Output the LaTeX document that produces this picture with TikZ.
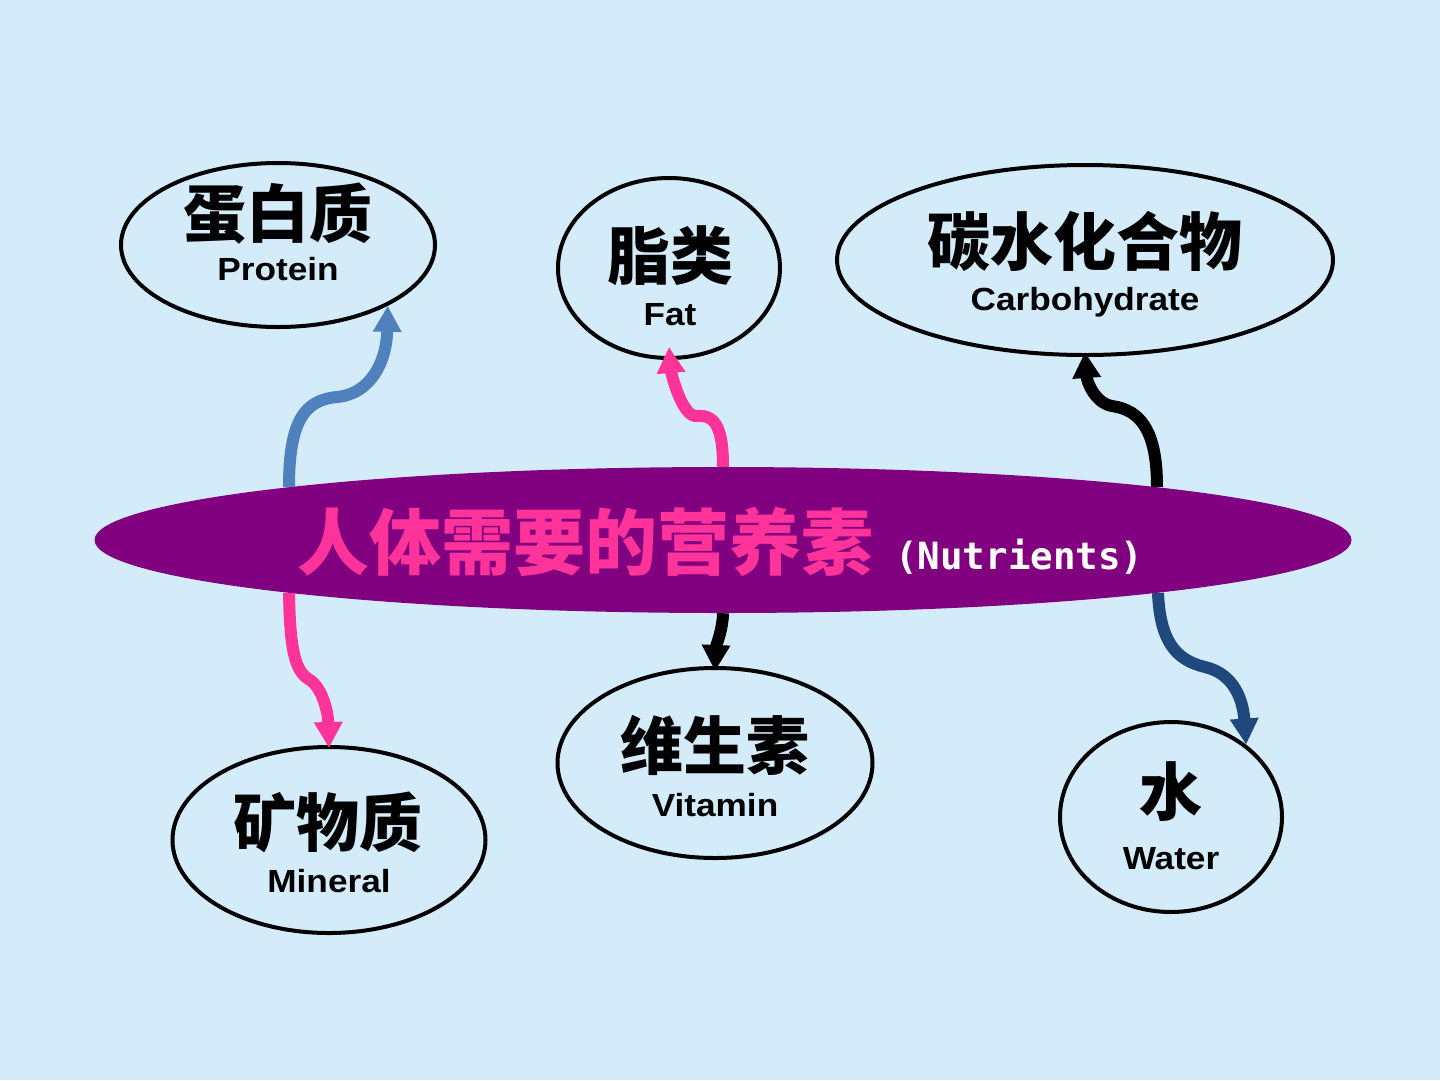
\documentclass[tikz,border=0pt]{standalone}
\usepackage{fontspec}
\usetikzlibrary{shapes.geometric}
\usetikzlibrary{arrows.meta}
\usepackage{xcolor}

\newfontfamily\zh{Noto Sans CJK SC}
\newfontfamily\en{Liberation Sans}[FakeStretch=1.1]
\newfontfamily\mono{DejaVu Sans Mono}

\definecolor{nutbg}{RGB}{212,236,250}
\definecolor{nutpurple}{RGB}{128,0,128}
\definecolor{nutpink}{RGB}{255,51,153}
\definecolor{nutblue}{RGB}{79,129,189}
\definecolor{nutnavy}{RGB}{31,73,125}

\tikzset{
  bubble/.style={ellipse, draw=black, line width=4pt, inner sep=0pt},
  core/.style={ellipse, fill=nutpurple, inner sep=0pt, minimum width=1257pt, minimum height=146pt},
  zhlabel/.style={inner sep=0pt, font=\zh\bfseries\fontsize{63}{63}\selectfont},
  enlabel/.style={inner sep=0pt, anchor=base, font=\en\bfseries\fontsize{32}{32}\selectfont},
  link/.style={line width=12pt, -{Triangle[width=27pt,length=26pt]}},
}

\begin{document}
\begin{tikzpicture}[x=1pt,y=1pt,yscale=-1,xscale=1]
\useasboundingbox (0,0) rectangle (1440,1080);
\fill[nutbg] (0,0) rectangle (1440,1080);

% Ellipses
\node[core] (core) at (723,540) {};
\node[bubble, minimum width=314pt, minimum height=164pt] (protein) at (278,245) {};
\node[bubble, minimum width=222pt, minimum height=180pt] (fat) at (669,268) {};
\node[bubble, minimum width=496pt, minimum height=190pt] (carbo) at (1085,260) {};
\node[bubble, minimum width=313pt, minimum height=186pt] (mineral) at (329,840) {};
\node[bubble, minimum width=315pt, minimum height=190pt] (vitamin) at (715,763) {};
\node[bubble, minimum width=222pt, minimum height=190pt] (water) at (1171,817) {};

% Text Node
\node[anchor=base west, inner sep=0pt] (title) at (297,569)
  {{\color{nutpink}\zh\bfseries\fontsize{72}{72}\selectfont 人体需要的营养素}\hspace{22pt}{\color{white}\mono\bfseries\fontsize{37.5}{40}\selectfont (Nutrients)}};

% Text Node
\node[zhlabel] (protein-zh) at (278,214) {蛋白质};
\node[enlabel] (protein-en) at (278,280) {Protein};
\node[zhlabel] (fat-zh) at (670,256) {脂类};
\node[enlabel] (fat-en) at (670,325) {Fat};
\node[zhlabel] (carbo-zh) at (1085,241) {碳水化合物};
\node[enlabel] (carbo-en) at (1085,310) {Carbohydrate};
\node[zhlabel] (mineral-zh) at (328,822) {矿物质};
\node[enlabel] (mineral-en) at (329,892) {Mineral};
\node[zhlabel] (vitamin-zh) at (715,745) {维生素};
\node[enlabel] (vitamin-en) at (715,816) {Vitamin};
\node[zhlabel] (water-zh) at (1171,792) {水};
\node[enlabel] (water-en) at (1171,869) {Water};

% Curve Lines
\draw[link, nutblue] ([shift={(-434,-53)}]core.center) .. controls +(0,-67) and +(-32,3) .. (337,397)
  .. controls +(34,-3) and +(-1,55) .. (protein.-29.3);
\draw[link, nutpink] (core.north) .. controls +(0,-35) and +(20,-2) .. (697,416)
  .. controls +(-15,2) and +(2,25) .. ([yshift=-13pt]fat.south);
\draw[link, black] ([shift={(434,-53)}]core.center) .. controls +(0,-57) and +(28,4) .. (1112,406)
  .. controls +(-17,-3) and +(2,30) .. ([yshift=-5pt]carbo.south);
\draw[link, nutpink] ([shift={(-434,53)}]core.center) .. controls +(1,57) and +(-15,-8) .. (310,680)
  .. controls +(12,8) and +(-1,-37) .. ([yshift=3pt]mineral.north);
\draw[link, black] (core.south) .. controls +(0,15) and +(1,-25) .. ([yshift=5pt]vitamin.north);
\draw[link, nutnavy] ([shift={(435,53)}]core.center) .. controls +(2,47) and +(-30,-7) .. (1205,667)
  .. controls +(30,7) and +(-3,-43) .. (water.44);

\end{tikzpicture}
\end{document}
